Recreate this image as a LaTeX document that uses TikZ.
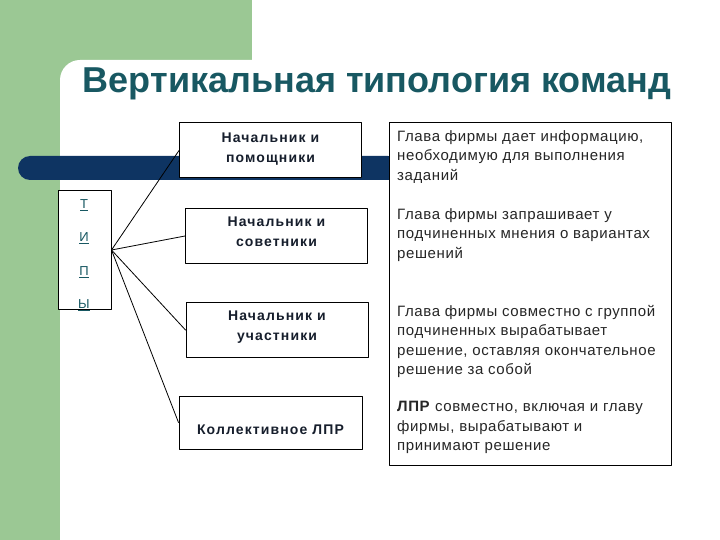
\documentclass[tikz,border=0pt]{standalone}
\usepackage{fontspec}
\setmainfont{Liberation Sans}
\usetikzlibrary{positioning}

\definecolor{slidegreen}{RGB}{155,200,148}
\definecolor{barblue}{RGB}{14,52,98}
\definecolor{titleteal}{RGB}{24,88,98}
\definecolor{inkdark}{RGB}{22,30,44}

\tikzset{
    kindbox/.style={draw, line width=1pt, fill=white, align=center,
        minimum width=182pt, minimum height=55pt, text=inkdark,
        font=\addfontfeature{LetterSpace=8}\fontsize{14}{20}\selectfont\bfseries},
    saytext/.style={anchor=north west, inner sep=0pt, align=left,
        text=black!85, font=\addfontfeature{LetterSpace=4}\fontsize{15}{19.5}\selectfont},
    letter/.style={inner sep=0pt, text=titleteal,
        font=\fontsize{13}{13}\selectfont},
    fan/.style={line width=0.8pt}
}

\begin{document}
\begin{tikzpicture}[x=1pt, y=-1pt, line join=round, line cap=round]
    \useasboundingbox (0,0) rectangle (720,540);

    % фон
    \fill[white] (0,0) rectangle (720,540);
    \fill[slidegreen] (0,0) rectangle (252,100);
    \fill[slidegreen] (0,0) rectangle (100,540);
    \fill[white] (60,560) [rounded corners=20pt] -- (60,60) [sharp corners] -- (740,60) -- (740,560) -- cycle;

    % полоса
    \fill[barblue, rounded corners=12pt] (18,156) rectangle (400,180);

    % заголовок
    \node[text=titleteal, font=\fontsize{36}{36}\selectfont\bfseries] (title) at (377,84) {Вертикальная типология команд};

    % типы
    \node[draw, line width=1pt, fill=white, minimum width=53pt, minimum height=118pt] (types) at (84.5,250) {};
    \foreach \ch/\yy [count=\i] in {Т/205,И/238,П/272,Ы/305}
        \node[letter] (ch\i) at (84,\yy) {\underline{\ch}};

    % виды команд
    \node[kindbox, text depth=6pt] (boss1) at (270.5,150.5) {Начальник и\\помощники};
    \node[kindbox, text depth=8pt] (boss2) at (276.5,236) {Начальник и\\советники};
    \node[kindbox, text depth=8pt] (boss3) at (277,330) {Начальник и\\участники};
    \node[kindbox, minimum width=183pt, minimum height=53pt, text height=24pt] (boss4) at (270.5,422.5) {Коллективное ЛПР};

    % веер
    \foreach \k in {1,...,4}
        \draw[fan] (types.east) -- (boss\k.west);

    % описания
    \node[draw, line width=1pt, fill=white, minimum width=282pt, minimum height=342pt] (desc) at (530,294) {};
    \node[saytext] (say1) at (397,130) {Глава фирмы дает информацию,\\необходимую для выполнения\\заданий};
    \node[saytext] (say2) at (397,208) {Глава фирмы запрашивает у\\подчиненных мнения о вариантах\\решений};
    \node[saytext] (say3) at (397,305) {Глава фирмы совместно с группой\\подчиненных вырабатывает\\решение, оставляя окончательное\\решение за собой};
    \node[saytext] (say4) at (397,401) {\textbf{ЛПР} совместно, включая и главу\\фирмы, вырабатывают и\\принимают решение};

\end{tikzpicture}
\end{document}
